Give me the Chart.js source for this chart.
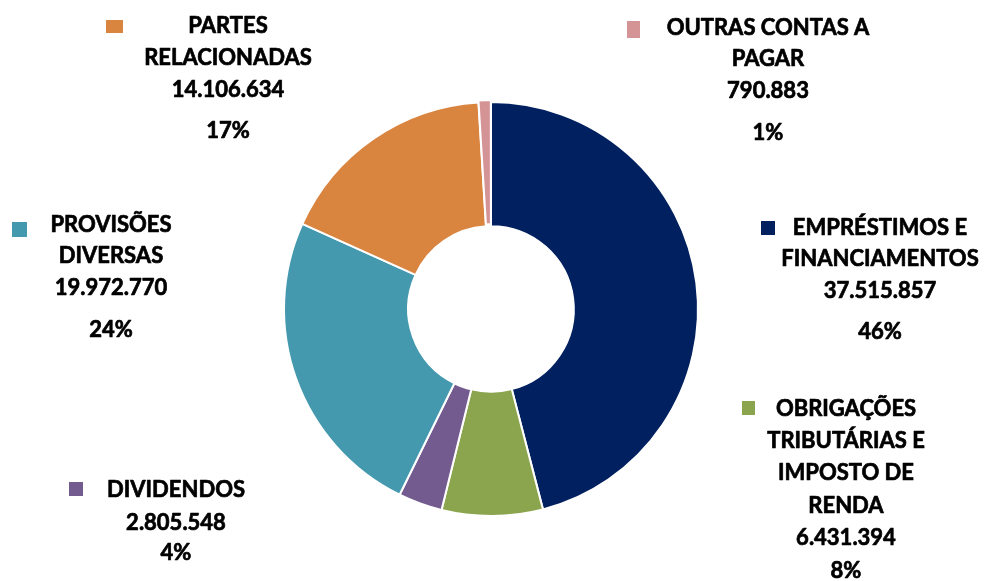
<!DOCTYPE html>
<html lang="pt-BR">
<head>
    <meta charset="UTF-8">
    <title>Composição do Passivo</title>
    <script src="https://cdn.jsdelivr.net/npm/chart.js"></script>
    <style>
        body {
            margin: 0;
            background: #ffffff;
        }
        #wrap {
            width: 986px;
            height: 581px;
            position: relative;
        }
    </style>
</head>
<body>
    <div id="wrap">
        <canvas id="donut"></canvas>
    </div>

    <script>
        // data
        const categories = [
            'EMPRÉSTIMOS E FINANCIAMENTOS',
            'OBRIGAÇÕES TRIBUTÁRIAS E IMPOSTO DE RENDA',
            'DIVIDENDOS',
            'PROVISÕES DIVERSAS',
            'PARTES RELACIONADAS',
            'OUTRAS CONTAS A PAGAR'
        ];
        const values = [37515857, 6431394, 2805548, 19972770, 14106634, 790883];
        const percentLabels = ['46%', '8%', '4%', '24%', '17%', '1%'];
        const nameLines = [
            ['EMPRÉSTIMOS E', 'FINANCIAMENTOS'],
            ['OBRIGAÇÕES', 'TRIBUTÁRIAS E', 'IMPOSTO DE', 'RENDA'],
            ['DIVIDENDOS'],
            ['PROVISÕES', 'DIVERSAS'],
            ['PARTES', 'RELACIONADAS'],
            ['OUTRAS CONTAS A', 'PAGAR']
        ];
        const colors = ['#00205f', '#8ba54f', '#735a8f', '#4499af', '#d9843f', '#d49495'];

        // where each label block sits (text centre x, first line y, line step, gap before %, key box)
        const labelLayout = [
            { cx: 880, y: 227, step: 31.5, pctGap: 41, box: [761, 221, 14, 14] },
            { cx: 846, y: 408, step: 32.2, pctGap: 33, box: [742, 401, 13, 14] },
            { cx: 176, y: 489, step: 33,   pctGap: 30, box: [69, 482, 14, 14] },
            { cx: 111, y: 224, step: 31.5, pctGap: 42, box: [12, 222, 15, 15] },
            { cx: 228, y: 25,  step: 32,   pctGap: 41, box: [106, 20, 17, 13] },
            { cx: 768, y: 27,  step: 31.5, pctGap: 42, box: [627, 21, 13, 17] }
        ];

        const FONT_SIZE = 22;
        const fmt = n => n.toLocaleString('pt-BR');

        const outsideLabels = {
            id: 'outsideLabels',
            afterDraw(chart) {
                const ctx = chart.ctx;
                ctx.save();
                ctx.font = `bold ${FONT_SIZE}px Lato, "Open Sans", sans-serif`;
                ctx.textAlign = 'center';
                ctx.textBaseline = 'alphabetic';
                ctx.fillStyle = '#000000';
                ctx.strokeStyle = '#000000';
                ctx.lineWidth = 0.7;
                ctx.lineJoin = 'round';
                const capHalf = FONT_SIZE * 0.36;

                const put = (t, x, y) => {
                    ctx.fillText(t, x, y);
                    ctx.strokeText(t, x, y); // a bit heavier, closer to the original bold
                };

                labelLayout.forEach((l, i) => {
                    const lines = nameLines[i].concat([fmt(values[i])]);
                    let y = l.y;
                    lines.forEach((t, k) => {
                        put(t, l.cx, y + capHalf);
                        if (k < lines.length - 1) y += l.step;
                    });
                    y += l.pctGap;
                    put(percentLabels[i], l.cx, y + capHalf);

                    ctx.fillStyle = colors[i];
                    ctx.fillRect(l.box[0], l.box[1], l.box[2], l.box[3]);
                    ctx.fillStyle = '#000000';
                });
                ctx.restore();
            }
        };

        new Chart(document.getElementById('donut'), {
            type: 'doughnut',
            data: {
                labels: categories,
                datasets: [{
                    data: values,
                    backgroundColor: colors,
                    borderColor: '#ffffff',
                    borderWidth: 2,
                    offset: [0, 0, 0, 0, 0, 4]
                }]
            },
            options: {
                responsive: true,
                maintainAspectRatio: false,
                animation: false,
                cutout: '40%',
                layout: {
                    padding: { top: 99, bottom: 62, left: 200, right: 204 }
                },
                plugins: {
                    legend: { display: false },
                    tooltip: { enabled: false }
                }
            },
            plugins: [outsideLabels]
        });
    </script>
</body>
</html>
